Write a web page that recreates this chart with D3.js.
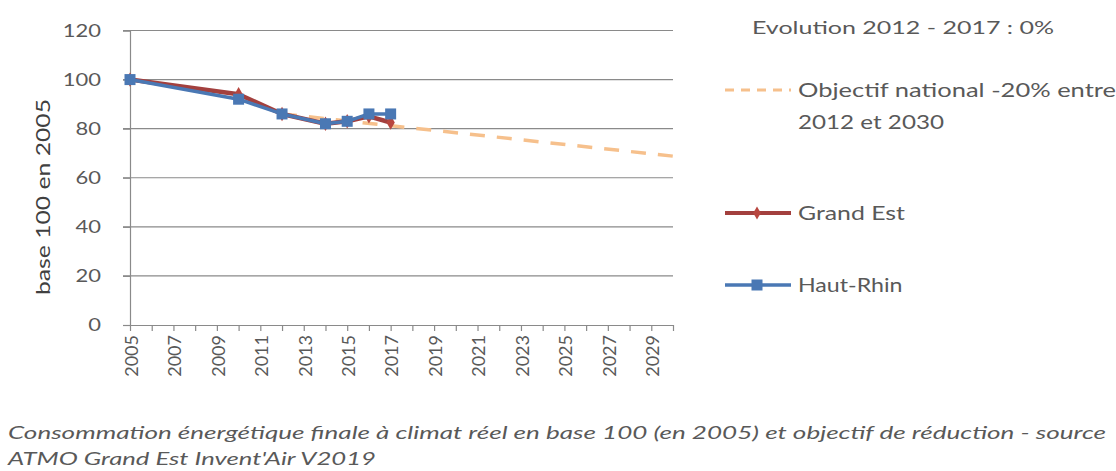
<!DOCTYPE html>
<html>
<head>
<meta charset="utf-8">
<script src="https://cdn.jsdelivr.net/npm/d3@7"></script>
<style>
  html, body { margin: 0; padding: 0; background: #fff; }
  svg { display: block; }
  text { font-family: Lato, "Open Sans", sans-serif; }
</style>
</head>
<body>
<svg id="chart" width="1116" height="471"></svg>
<script>
// ---- data ----
const years = d3.range(2005, 2031);           // category axis 2005..2030
const yTicks = [0, 20, 40, 60, 80, 100, 120];
const grandEstYears = [2005, 2010, 2012, 2014, 2015, 2016, 2017];
const grandEstValues = [100, 94, 86, 82, 83, 85, 82.5];
const hautRhinYears = [2005, 2010, 2012, 2014, 2015, 2016, 2017];
const hautRhinValues = [100, 92, 86, 82, 83, 86, 86];
const objectifYears = [2012, 2030];
const objectifValues = [86, 68.8];
const legendTitle = "Evolution 2012 - 2017  : 0%";
const legendLabels = ["Objectif national -20% entre", "2012 et 2030", "Grand Est", "Haut-Rhin"];
const yAxisTitle = "base 100 en 2005";
const captionLines = [
  "Consommation énergétique  finale à climat  réel en base 100 (en 2005) et objectif de réduction - source",
  "ATMO Grand Est Invent'Air V2019"
];

// ---- layout ----
const svg = d3.select("#chart");
const x = d3.scalePoint().domain(years).range([130, 673]);
const y = d3.scaleLinear().domain([0, 120]).range([325, 30.5]);
const gridColor = "#8a8a8a";
const textColor = "#595959";

function stretch(sel, factor) {
  sel.each(function () {
    const w = this.getComputedTextLength();
    d3.select(this).attr("textLength", w * factor).attr("lengthAdjust", "spacingAndGlyphs");
  });
}
function toWidth(sel, target) {
  sel.attr("textLength", target).attr("lengthAdjust", "spacingAndGlyphs");
}

// gridlines
svg.append("g").selectAll("line").data(yTicks.filter(d => d > 0)).join("line")
  .attr("x1", 123).attr("x2", 673)
  .attr("y1", d => y(d)).attr("y2", d => y(d))
  .attr("stroke", gridColor).attr("stroke-width", 1.2);

// y axis
const yAxis = svg.append("g").attr("transform", "translate(130,0)")
  .call(d3.axisLeft(y).tickValues(yTicks).tickSize(7).tickPadding(22));
yAxis.select(".domain").attr("stroke", gridColor).attr("stroke-width", 1.2);
yAxis.selectAll(".tick line").attr("stroke", gridColor).attr("stroke-width", 1.2);
yAxis.selectAll(".tick text").attr("fill", textColor).attr("font-size", 18)
  .attr("font-family", "Lato, sans-serif").call(stretch, 1.22);

// x axis
const xAxis = svg.append("g").attr("transform", `translate(0,${y(0)})`)
  .call(d3.axisBottom(x).tickValues(years).tickSize(6)
    .tickFormat(d => (d % 2 === 1 && d < 2030) ? String(d) : ""));
xAxis.select(".domain").attr("stroke", gridColor).attr("stroke-width", 1.2)
  .attr("d", `M123,0.5H673`);
xAxis.selectAll(".tick line").attr("stroke", gridColor).attr("stroke-width", 1.2);
xAxis.selectAll(".tick text")
  .attr("fill", textColor).attr("font-size", 18).attr("font-family", "Lato, sans-serif")
  .attr("text-anchor", "end")
  .attr("transform", "rotate(-90)")
  .attr("x", -10).attr("y", 1).attr("dy", "0.35em");

// y axis title
svg.append("text")
  .attr("transform", "translate(43,197) rotate(-90)")
  .attr("text-anchor", "middle").attr("dy", "0.35em")
  .attr("fill", "#404040").attr("font-size", 19)
  .text(yAxisTitle)
  .call(toWidth, 196);

// lines
const line = d3.line().x(d => x(d[0])).y(d => y(d[1]));
const objData = d3.zip(objectifYears, objectifValues);
const geData = d3.zip(grandEstYears, grandEstValues);
const hrData = d3.zip(hautRhinYears, hautRhinValues);

svg.append("path").datum(objData).attr("d", line)
  .attr("fill", "none").attr("stroke", "#f6c08c").attr("stroke-width", 3.5)
  .attr("stroke-dasharray", "15,12");

svg.append("path").datum(geData).attr("d", line)
  .attr("fill", "none").attr("stroke", "#a3403e").attr("stroke-width", 4.5)
  .attr("stroke-linejoin", "round");
svg.append("g").selectAll("path").data(geData).join("path")
  .attr("d", d3.symbol().type(d3.symbolDiamond).size(60))
  .attr("transform", d => `translate(${x(d[0])},${y(d[1])})`)
  .attr("fill", "#b8463f");

svg.append("path").datum(hrData).attr("d", line)
  .attr("fill", "none").attr("stroke", "#4a78b4").attr("stroke-width", 3.5)
  .attr("stroke-linejoin", "round");
svg.append("g").selectAll("rect").data(hrData).join("rect")
  .attr("x", d => x(d[0]) - 5.5).attr("y", d => y(d[1]) - 5.5)
  .attr("width", 11).attr("height", 11)
  .attr("fill", "#4a78b4");

// legend
const lg = svg.append("g");
lg.append("text").attr("x", 752).attr("y", 28).attr("dy", "0.35em")
  .attr("fill", textColor).attr("font-size", 18).text(legendTitle)
  .call(toWidth, 302);

const lx1 = 725, lx2 = 791, tx = 798, legendFs = 19;
// objectif
lg.append("line").attr("x1", lx1).attr("x2", lx2).attr("y1", 90).attr("y2", 90)
  .attr("stroke", "#f6c08c").attr("stroke-width", 3).attr("stroke-dasharray", "9,7");
lg.append("text").attr("x", tx).attr("y", 90).attr("dy", "0.35em")
  .attr("fill", textColor).attr("font-size", legendFs).text(legendLabels[0]).call(toWidth, 318);
lg.append("text").attr("x", tx).attr("y", 122).attr("dy", "0.35em")
  .attr("fill", textColor).attr("font-size", legendFs).text(legendLabels[1]).call(toWidth, 146);
// grand est
lg.append("line").attr("x1", lx1).attr("x2", lx2).attr("y1", 213).attr("y2", 213)
  .attr("stroke", "#a3403e").attr("stroke-width", 4);
lg.append("path").attr("d", d3.symbol().type(d3.symbolDiamond).size(50))
  .attr("transform", "translate(757,213)").attr("fill", "#b8463f");
lg.append("text").attr("x", tx).attr("y", 213).attr("dy", "0.35em")
  .attr("fill", textColor).attr("font-size", legendFs).text(legendLabels[2]).call(toWidth, 107);
// haut-rhin
lg.append("line").attr("x1", lx1).attr("x2", lx2).attr("y1", 285).attr("y2", 285)
  .attr("stroke", "#4a78b4").attr("stroke-width", 3.5);
lg.append("rect").attr("x", 751.5).attr("y", 279.5).attr("width", 11).attr("height", 11)
  .attr("fill", "#4a78b4");
lg.append("text").attr("x", tx).attr("y", 285).attr("dy", "0.35em")
  .attr("fill", textColor).attr("font-size", legendFs).text(legendLabels[3]).call(stretch, 1.22);

// caption
svg.append("text").attr("x", 8).attr("y", 433).attr("dy", "0.35em")
  .attr("fill", textColor).attr("font-style", "italic").attr("font-size", 17)
  .text(captionLines[0]).call(toWidth, 1098);
svg.append("text").attr("x", 8).attr("y", 459).attr("dy", "0.35em")
  .attr("fill", textColor).attr("font-style", "italic").attr("font-size", 17)
  .text(captionLines[1]).call(toWidth, 368);
</script>
</body>
</html>
